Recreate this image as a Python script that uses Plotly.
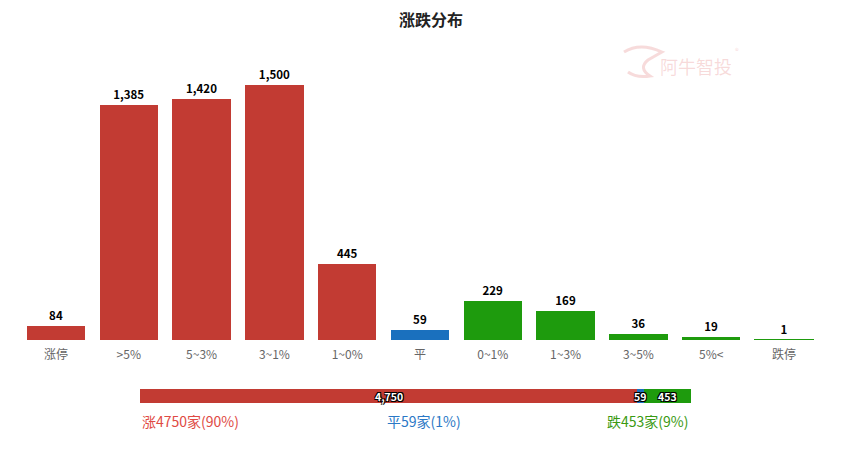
import plotly.graph_objects as go

# ---- data ----
categories = ["涨停", ">5%", "5~3%", "3~1%", "1~0%", "平", "0~1%", "1~3%", "3~5%", "5%<", "跌停"]
counts = [84, 1385, 1420, 1500, 445, 59, 229, 169, 36, 19, 1]
bar_colors = ["#c23b33"] * 5 + ["#1a70be"] + ["#1e9b0d"] * 5

summary_names = ["涨", "平", "跌"]
summary_values = [4750, 59, 453]
summary_colors = ["#c23b33", "#1a70be", "#1e9b0d"]
summary_text_colors = ["#e04a44", "#2b78c6", "#3a9a12"]
summary_pcts = ["90%", "1%", "9%"]

W, H = 863, 449
OFF = 8  # page body margin
FONT = "Noto Sans CJK SC, Microsoft YaHei, sans-serif"


def px(x):
    return (x - OFF) / W


def py(y):
    return (H - (y - OFF)) / H


fig = go.Figure()

fig.add_trace(go.Bar(
    x=categories, y=counts,
    marker=dict(color=bar_colors,
                line=dict(color=bar_colors, width=[1 if v < 5 else 0 for v in counts])),
    text=[f"{v:,}" for v in counts],
    textposition="outside",
    textfont=dict(family=FONT, size=11.5, color="#000000", weight="bold"),
    cliponaxis=False,
    xaxis="x", yaxis="y",
    showlegend=False,
))

total = sum(summary_values)
for name, val, col in zip(summary_names, summary_values, summary_colors):
    fig.add_trace(go.Bar(
        x=[val], y=["s"], orientation="h", width=1,
        marker=dict(color=col, line=dict(width=0)),
        xaxis="x2", yaxis="y2",
        hoverinfo="x",
        showlegend=False,
    ))

# labels on the summary bar, placed at segment midpoints via the x2 axis
cum = 0
for val in summary_values:
    fig.add_annotation(x=cum + val / 2, y="s", xref="x2", yref="y2",
                       text=f"<b>{val:,}</b>", showarrow=False,
                       xanchor="center", yanchor="middle",
                       font=dict(family=FONT, size=10.5, color="#ffffff",
                                 shadow="1px 1px 0 #000, -1px -1px 0 #000, 1px -1px 0 #000, -1px 1px 0 #000"))
    cum += val

# axis geometry
ybot_px, ytop_px = 340, 50
px_per_unit = 255 / 1500
ymax = (ybot_px - ytop_px) / px_per_unit

fig.update_layout(
    width=W, height=H,
    margin=dict(l=0, r=0, t=0, b=0),
    paper_bgcolor="#ffffff", plot_bgcolor="#ffffff",
    barmode="stack",
    bargap=0.2,
    font=dict(family=FONT),
    title=dict(text="<b>涨跌分布</b>", x=px(431), xanchor="center", y=py(20), yanchor="middle",
               font=dict(family=FONT, size=16, color="#222222")),
    xaxis=dict(domain=[px(19.6), px(820.4)], showgrid=False, showline=False, zeroline=False,
               ticks="", ticklabelstandoff=6,
               tickfont=dict(family=FONT, size=12, color="#666666"), fixedrange=True),
    yaxis=dict(domain=[py(ybot_px), py(ytop_px)], range=[0, ymax], visible=False),
    xaxis2=dict(domain=[px(140), px(691)], range=[0, total], visible=False, anchor="y2"),
    yaxis2=dict(domain=[py(403), py(389)], range=[-0.5, 0.5], visible=False, anchor="x2"),
)

# summary legend texts
pos = [(px(140), "left"), (px(424), "center"), (px(690), "right")]
for (xp, anchor), name, val, pct, col in zip(pos, summary_names, summary_values, summary_pcts, summary_text_colors):
    fig.add_annotation(x=xp, y=py(421), xref="paper", yref="paper",
                       text=f"{name}{val}家({pct})", showarrow=False,
                       xanchor=anchor, yanchor="middle",
                       font=dict(family=FONT, size=14, color=col))

# watermark
wm = "rgba(225,110,110,0.25)"
fig.add_annotation(x=px(696), y=py(66), xref="paper", yref="paper",
                   text="阿牛智投", showarrow=False, xanchor="center", yanchor="middle",
                   font=dict(family=FONT, size=18, color=wm))
fig.add_annotation(x=px(737), y=py(50), xref="paper", yref="paper",
                   text="®", showarrow=False, xanchor="center", yanchor="middle",
                   font=dict(family=FONT, size=8, color=wm))
fig.add_shape(type="path", xref="paper", yref="paper",
              path=f"M {px(624)} {py(52)} Q {px(640)} {py(42)} {px(662)} {py(52)} "
                   f"L {px(648)} {py(60)} Q {px(638)} {py(68)} {px(650)} {py(76)} "
                   f"Q {px(636)} {py(78)} {px(628)} {py(72)}",
              line=dict(color=wm, width=3), fillcolor="rgba(0,0,0,0)")

fig.write_html("out.html")
